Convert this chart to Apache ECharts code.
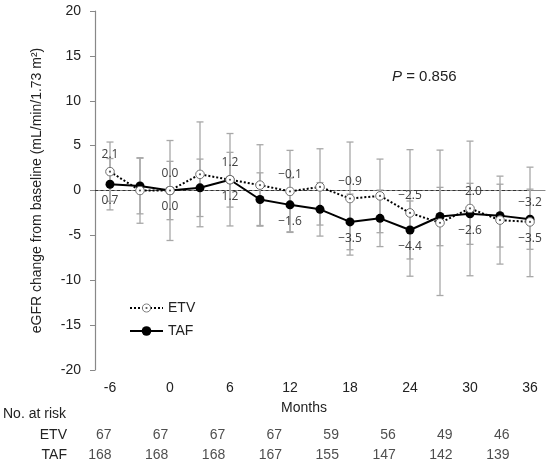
<!DOCTYPE html>
<html>
<head>
<meta charset="utf-8">
<script src="https://cdn.jsdelivr.net/npm/echarts@6/dist/echarts.min.js"></script>
<style>
  html, body { margin: 0; padding: 0; background: #fff; }
  #chart { width: 550px; height: 462px; }
</style>
</head>
<body>
<div id="chart"></div>
<script>
// 数据
var months = ['-6', '-3', '0', '3', '6', '9', '12', '15', '18', '21', '24', '27', '30', '33', '36'];
var etvMean = [2.1, 0.0, 0.0, 1.8, 1.2, 0.6, -0.1, 0.4, -0.9, -0.6, -2.5, -3.6, -2.0, -3.3, -3.5];
var etvSd = [3.3, 3.65, 5.57, 5.84, 5.15, 4.5, 4.57, 4.25, 6.3, 4.1, 7.05, 8.1, 7.5, 4.9, 6.1];
var tafMean = [0.7, 0.5, 0.0, 0.3, 1.2, -1.0, -1.6, -2.1, -3.5, -3.1, -4.4, -2.9, -2.6, -2.8, -3.2];
var tafSd = [2.86, 3.1, 3.25, 3.2, 3.05, 2.97, 3.0, 2.98, 3.1, 3.15, 3.23, 3.25, 3.4, 3.5, 3.35];

var riskMonths = ['-6', '0', '6', '12', '18', '24', '30', '36'];
var riskGroups = ['ETV', 'TAF'];
var etvRisk = [67, 67, 67, 67, 59, 56, 49, 46];
var tafRisk = [168, 168, 168, 167, 155, 147, 142, 139];

var axisFont = 'Liberation Sans, Arial, sans-serif';
var textColor = '#222';

// 空心圆中间带点的符号
var etvSymbol = 'image://data:image/svg+xml;charset=utf-8,' + encodeURIComponent(
  "<svg xmlns='http://www.w3.org/2000/svg' width='20' height='20'>" +
  "<circle cx='10' cy='10' r='8.6' fill='#fff' stroke='#6e6e6e' stroke-width='2'/>" +
  "<circle cx='10' cy='10' r='2.2' fill='#555'/></svg>");

function fmt(v) {
  return v.toFixed(1).replace('-', '\u2212');
}

// 每 6 个月显示一个数值标签，较高的一组放上面
function pointData(mean, other, isEtv) {
  return mean.map(function (v, i) {
    var show = Number(months[i]) % 6 === 0;
    var above = isEtv ? v >= other[i] : v > other[i];
    return { value: v, label: { show: show, position: above ? 'top' : 'bottom' } };
  });
}

function barData(mean, sd) {
  return mean.map(function (v, i) { return [i, v, sd[i]]; });
}

function renderErr(params, api) {
  var i = api.value(0), m = api.value(1), s = api.value(2);
  var hi = api.coord([i, m + s]);
  var lo = api.coord([i, m - s]);
  var w = 3.5;
  var st = { stroke: '#a8a8a8', lineWidth: 1.3 };
  return {
    type: 'group',
    children: [
      { type: 'line', shape: { x1: hi[0], y1: hi[1], x2: lo[0], y2: lo[1] }, style: st },
      { type: 'line', shape: { x1: hi[0] - w, y1: hi[1], x2: hi[0] + w, y2: hi[1] }, style: st },
      { type: 'line', shape: { x1: lo[0] - w, y1: lo[1], x2: lo[0] + w, y2: lo[1] }, style: st }
    ]
  };
}

function renderZero(params, api) {
  var cs = params.coordSys;
  var end = api.coord([months.length - 1, 0]);
  return {
    type: 'line',
    shape: { x1: cs.x, y1: end[1], x2: end[0], y2: end[1] },
    style: { stroke: '#333', lineWidth: 1, lineDash: [3, 2.5] }
  };
}

var labelStyle = {
  fontFamily: 'Open Sans, sans-serif',
  fontSize: 12,
  color: '#404040',
  distance: 6,
  formatter: function (p) { return fmt(p.value); }
};

var myChart = echarts.init(document.getElementById('chart'));
myChart.setOption({
  animation: false,
  legend: {
    data: ['ETV', 'TAF'],
    orient: 'vertical',
    left: 124,
    top: 296,
    itemWidth: 33,
    itemHeight: 12,
    itemGap: 9,
    textStyle: { fontFamily: axisFont, fontSize: 14, color: textColor }
  },
  graphic: [
    {
      type: 'text', left: 392, top: 69,
      style: {
        text: '{i|P} = 0.856',
        font: '15px ' + axisFont,
        fill: textColor,
        rich: { i: { fontStyle: 'italic', fontSize: 15, fontFamily: axisFont } }
      }
    },
    {
      type: 'text', left: 3, top: 407,
      style: { text: 'No. at risk', font: '14px ' + axisFont, fill: textColor }
    }
  ],
  grid: [
    { left: 95, right: 5, top: 11, bottom: 92 },
    { left: 112, right: 40, top: 435, height: 20 }
  ],
  xAxis: [
    {
      type: 'category',
      data: months,
      boundaryGap: true,
      name: 'Months',
      nameLocation: 'middle',
      nameGap: 31,
      nameTextStyle: { fontFamily: axisFont, fontSize: 14, color: textColor, padding: [0, 32, 0, 0] },
      axisLine: { lineStyle: { color: '#888', width: 1.2 } },
      axisTick: { interval: 0, alignWithLabel: true, length: 5, lineStyle: { color: '#888' } },
      axisLabel: { interval: 1, margin: 11, fontFamily: axisFont, fontSize: 14, color: textColor },
      splitLine: { show: false }
    },
    {
      type: 'category',
      gridIndex: 1,
      data: riskMonths,
      boundaryGap: false,
      axisLine: { show: false },
      axisTick: { show: false },
      axisLabel: { show: false }
    }
  ],
  yAxis: [
    {
      type: 'value',
      min: -20,
      max: 20,
      interval: 5,
      name: 'eGFR change from baseline (mL/min/1.73 m\u00b2)',
      nameLocation: 'middle',
      nameGap: 51,
      nameTextStyle: { fontFamily: axisFont, fontSize: 14, color: textColor },
      axisLine: { show: true, lineStyle: { color: '#888', width: 1.2 } },
      axisTick: { show: true, length: 5, lineStyle: { color: '#888' } },
      axisLabel: { margin: 14, fontFamily: axisFont, fontSize: 14, color: textColor },
      splitLine: { show: false }
    },
    {
      type: 'category',
      gridIndex: 1,
      data: riskGroups,
      inverse: true,
      boundaryGap: false,
      axisLine: { show: false },
      axisTick: { show: false },
      axisLabel: { margin: 45, fontFamily: axisFont, fontSize: 14, color: textColor }
    }
  ],
  series: [
    {
      name: 'zero',
      type: 'custom',
      renderItem: renderZero,
      data: [[0, 0]],
      silent: true,
      z: 1
    },
    {
      name: 'ETV SD',
      type: 'custom',
      renderItem: renderErr,
      encode: { x: 0, y: 1 },
      data: barData(etvMean, etvSd),
      silent: true,
      z: 2
    },
    {
      name: 'TAF SD',
      type: 'custom',
      renderItem: renderErr,
      encode: { x: 0, y: 1 },
      data: barData(tafMean, tafSd),
      silent: true,
      z: 2
    },
    {
      name: 'TAF',
      type: 'line',
      data: pointData(tafMean, etvMean, false),
      symbol: 'circle',
      symbolSize: 9,
      itemStyle: { color: '#000' },
      lineStyle: { color: '#000', width: 2 },
      label: labelStyle,
      z: 3
    },
    {
      name: 'ETV',
      type: 'line',
      data: pointData(etvMean, tafMean, true),
      symbol: etvSymbol,
      symbolSize: 10,
      itemStyle: { color: '#000' },
      lineStyle: { color: '#000', width: 2, type: [2, 2] },
      label: labelStyle,
      z: 4
    },
    {
      name: 'ETV risk',
      type: 'scatter',
      xAxisIndex: 1,
      yAxisIndex: 1,
      symbolSize: 1,
      itemStyle: { color: 'transparent' },
      data: etvRisk.map(function (n, i) { return [i, 0, n]; }),
      label: {
        show: true, position: 'left', distance: 0,
        fontFamily: axisFont, fontSize: 14, color: textColor,
        formatter: function (p) { return p.value[2]; }
      },
      silent: true
    },
    {
      name: 'TAF risk',
      type: 'scatter',
      xAxisIndex: 1,
      yAxisIndex: 1,
      symbolSize: 1,
      itemStyle: { color: 'transparent' },
      data: tafRisk.map(function (n, i) { return [i, 1, n]; }),
      label: {
        show: true, position: 'left', distance: 0,
        fontFamily: axisFont, fontSize: 14, color: textColor,
        formatter: function (p) { return p.value[2]; }
      },
      silent: true
    }
  ]
});
</script>
</body>
</html>
